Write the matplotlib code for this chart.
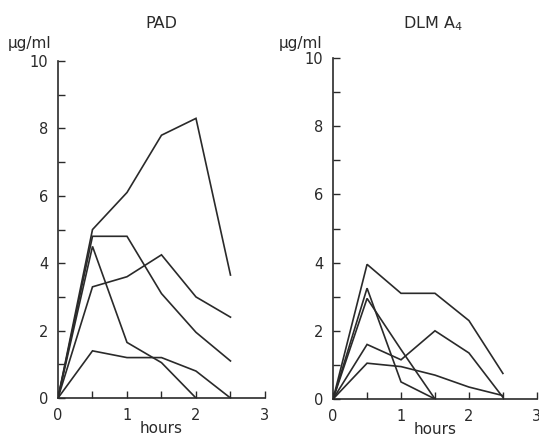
import matplotlib
matplotlib.use('Agg')
import matplotlib.pyplot as plt
import numpy as np

plt.rcParams['font.family'] = ['DejaVu Sans']

hours = [0, 0.5, 1, 1.5, 2, 2.5]

# PAD curves (µg/ml)
pad_1 = [0, 5.0, 6.1, 7.8, 8.3, 3.65]
pad_2 = [0, 4.8, 4.8, 3.1, 1.95, 1.1]
pad_3 = [0, 4.5, 1.65, 1.05, 0.0]
pad_4 = [0, 3.3, 3.6, 4.25, 3.0, 2.4]
pad_5 = [0, 1.4, 1.2, 1.2, 0.8, 0.0]

# DLM A4 curves (µg/ml)
dlm_1 = [0, 3.95, 3.1, 3.1, 2.3, 0.75]
dlm_2 = [0, 3.25, 0.5, 0.0]
dlm_3 = [0, 2.95, 1.45, 0.0]
dlm_4 = [0, 1.6, 1.15, 2.0, 1.35, 0.05]
dlm_5 = [0, 1.05, 0.95, 0.7, 0.35, 0.1]

pad_series = [pad_1, pad_2, pad_3, pad_4, pad_5]
dlm_series = [dlm_1, dlm_2, dlm_3, dlm_4, dlm_5]

ink = '#2a2a2a'

fig = plt.figure(figsize=(5.39, 4.37), dpi=100)
ax1 = fig.add_axes([0.1076, 0.0892, 0.384, 0.771])
ax2 = fig.add_axes([0.618, 0.087, 0.378, 0.780])


def style(ax, series, title, tx):
    for s in series:
        ax.plot(hours[:len(s)], s, color=ink, lw=1.2, solid_joinstyle='miter')
    ax.set_xlim(0, 3)
    ax.set_ylim(0, 10)
    ax.spines['top'].set_visible(False)
    ax.spines['right'].set_visible(False)
    for sp in ['left', 'bottom']:
        ax.spines[sp].set_color(ink)
        ax.spines[sp].set_linewidth(1.2)
    ax.set_xticks([0, 1, 2, 3])
    ax.set_xticks(np.arange(0, 3.01, 0.5), minor=True)
    ax.set_yticks([0, 2, 4, 6, 8, 10])
    ax.set_yticks(np.arange(0, 10.01, 1), minor=True)
    ax.tick_params(which='both', direction='in', color=ink, width=1.0, labelsize=10.5,
                   labelcolor=ink)
    ax.tick_params(which='major', length=5, pad=7)
    ax.tick_params(which='minor', length=5)
    ax.set_xlabel('hours', fontsize=11, color=ink, labelpad=-1)
    fig.text(tx, 0.947, title, fontsize=11.5, color=ink, ha='center', va='center')


style(ax1, pad_series, 'PAD', 0.30)
style(ax2, dlm_series, 'DLM A$_4$', 0.803)
fig.text(0.015, 0.90, 'µg/ml', fontsize=11, color=ink, ha='left', va='center')
fig.text(0.517, 0.90, 'µg/ml', fontsize=11, color=ink, ha='left', va='center')

fig.savefig('out.png', dpi=100)
